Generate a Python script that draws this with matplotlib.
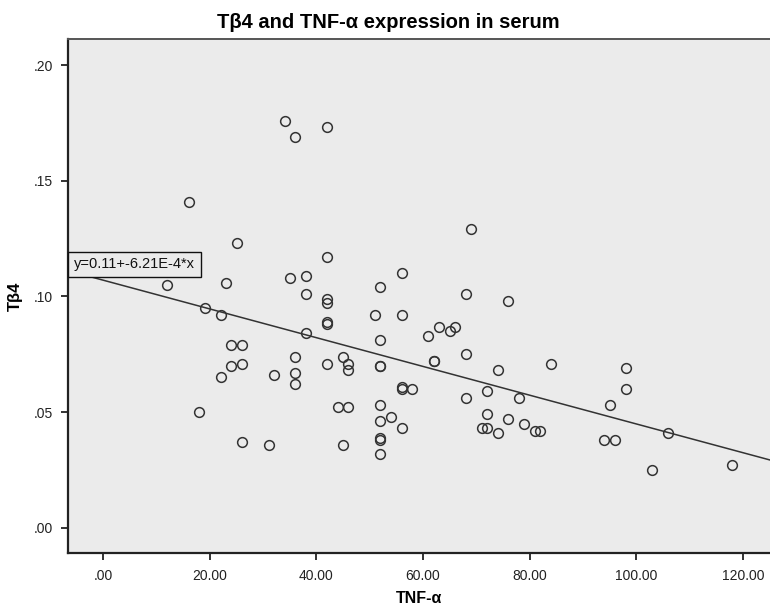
"""Scatter of Tb4 vs TNF-alpha in serum with linear fit (SPSS style)
"""
import numpy as np
import matplotlib
matplotlib.use('Agg')
import matplotlib.pyplot as plt

plt.rcParams['font.family'] = ['Liberation Sans', 'DejaVu Sans']

# values
tnf = [34, 36, 42, 16, 25, 42, 69, 56, 12, 23, 35, 38, 38, 42, 42, 42, 42,
       19, 22, 38, 24, 26, 36, 45, 24, 26, 42, 46, 46, 22, 32, 36, 36, 44,
       46, 18, 26, 31, 45, 52, 68, 76, 51, 56, 61, 63, 65, 66, 52, 68, 52,
       52, 62, 62, 84, 98, 74, 56, 56, 58, 98, 68, 72, 78, 95, 52, 54, 52,
       56, 72, 76, 79, 71, 72, 74, 81, 82, 52, 52, 52, 94, 96, 106, 103, 118]
tb4 = [0.176, 0.169, 0.173, 0.141, 0.123, 0.117, 0.129, 0.110, 0.105,
       0.106, 0.108, 0.109, 0.101, 0.099, 0.097, 0.089, 0.088, 0.095,
       0.092, 0.084, 0.079, 0.079, 0.074, 0.074, 0.070, 0.071, 0.071,
       0.071, 0.068, 0.065, 0.066, 0.067, 0.062, 0.052, 0.052, 0.050,
       0.037, 0.036, 0.036, 0.104, 0.101, 0.098, 0.092, 0.092, 0.083,
       0.087, 0.085, 0.087, 0.081, 0.075, 0.070, 0.070, 0.072, 0.072,
       0.071, 0.069, 0.068, 0.061, 0.060, 0.060, 0.060, 0.056, 0.059,
       0.056, 0.053, 0.053, 0.048, 0.046, 0.043, 0.049, 0.047, 0.045,
       0.043, 0.043, 0.041, 0.042, 0.042, 0.039, 0.038, 0.032, 0.038,
       0.038, 0.041, 0.025, 0.027]

# fit line as drawn in the picture
fit_intercept = 0.107
fit_slope = -6.21E-4
fit_label = 'y=0.11+-6.21E-4*x'

x_ticks = [0, 20, 40, 60, 80, 100, 120]
x_ticklabels = ['.00', '20.00', '40.00', '60.00', '80.00', '100.00', '120.00']
y_ticks = [0.0, 0.05, 0.10, 0.15, 0.20]
y_ticklabels = ['.00', '.05', '.10', '.15', '.20']

bg = '#ebebeb'
ink = '#333333'

fig = plt.figure(figsize=(7.7, 6.06), dpi=100)
ax = fig.add_axes([0.0887, 0.087, 0.9113, 0.8481])
ax.set_facecolor(bg)

xmin, xmax = -6.57, 125.1
ax.set_xlim(xmin, xmax)
ax.set_ylim(-0.011, 0.2111)

#-------------points and fit line----------------
ax.plot(tnf, tb4, linestyle='none', marker='o', markersize=7,
        markerfacecolor='none', markeredgecolor=ink, markeredgewidth=1.1)
xs = np.array([xmin, xmax])
ax.plot(xs, fit_intercept + fit_slope*xs, color=ink, linewidth=1.1)

ax.text(0.008, 0.562, fit_label, transform=ax.transAxes, fontsize=10.5,
        ha='left', va='center', color='#111111',
        bbox=dict(boxstyle='square,pad=0.4', facecolor=bg,
                  edgecolor='#111111', linewidth=1.0))

#-------------axes cosmetics----------------
ax.set_xticks(x_ticks)
ax.set_xticklabels(x_ticklabels)
ax.set_yticks(y_ticks)
ax.set_yticklabels(y_ticklabels)
ax.tick_params(direction='out', length=5, width=1.3, colors='#222222',
               labelsize=10, pad=6)
for side in ['left', 'bottom']:
    ax.spines[side].set_linewidth(1.6)
    ax.spines[side].set_color('#222222')
ax.spines['top'].set_linewidth(1.4)
ax.spines['top'].set_color('#555555')
ax.spines['right'].set_visible(False)

ax.set_xlabel('TNF-α', fontsize=11.5, fontweight='bold', labelpad=6)
ax.set_ylabel('Tβ4', fontsize=12, fontweight='bold', labelpad=8)
fig.text(0.504, 0.963, 'Tβ4 and TNF-α expression in serum', fontsize=14.5,
         fontweight='bold', ha='center', va='center')

fig.savefig('out.png', dpi=100)
